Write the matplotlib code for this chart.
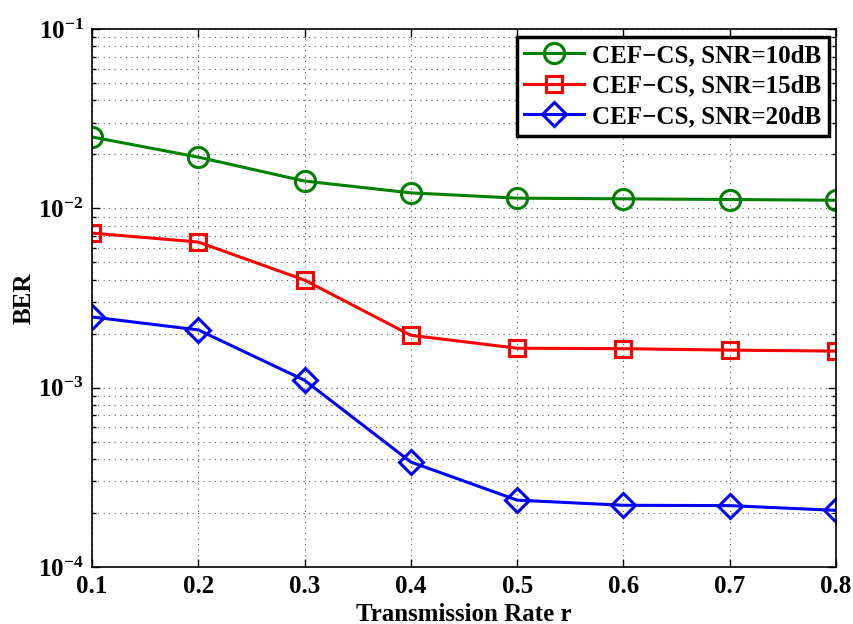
import math
import matplotlib
matplotlib.use("Agg")
import matplotlib.pyplot as plt
from matplotlib.ticker import LogLocator, FixedLocator, FuncFormatter, NullFormatter

plt.rcParams['font.family'] = 'Liberation Serif'
plt.rcParams['font.weight'] = 'bold'
plt.rcParams['mathtext.fontset'] = 'custom'
plt.rcParams['mathtext.rm'] = 'Liberation Serif:bold'
plt.rcParams['mathtext.bf'] = 'Liberation Serif:bold'
plt.rcParams['mathtext.default'] = 'bf'

# data
rate = [0.1, 0.2, 0.3, 0.4, 0.5, 0.6, 0.7, 0.8]
ber_10dB = [0.0250, 0.0193, 0.0142, 0.0122, 0.0114, 0.0113, 0.0112, 0.0111]
ber_15dB = [0.00728, 0.00649, 0.00398, 0.00196, 0.00166, 0.00165, 0.00162, 0.00160]
ber_20dB = [0.00248, 0.00210, 0.00110, 0.000385, 0.000236, 0.000221, 0.000220, 0.000207]
labels = ['CEF\u2212CS, SNR=10dB', 'CEF\u2212CS, SNR=15dB', 'CEF\u2212CS, SNR=20dB']

fig = plt.figure(figsize=(8.54, 6.24), dpi=100)
ax = fig.add_axes([0.1077, 0.0913, 0.8713, 0.8622])

ax.semilogy(rate, ber_10dB, '-o', color=(0, 0.5, 0), lw=2.2, ms=14.5, mfc='none', mew=2.2, label=labels[0])
ax.semilogy(rate, ber_15dB, '-s', color='red', lw=2.2, ms=12, mfc='none', mew=2.2, label=labels[1])
ax.semilogy(rate, ber_20dB, '-D', color='blue', lw=2.2, ms=12, mfc='none', mew=2.2, label=labels[2])

ax.set_xlim(0.1, 0.8)
ax.set_ylim(1e-4, 1e-1)
ax.xaxis.set_major_locator(FixedLocator(rate))
ax.xaxis.set_major_formatter(FuncFormatter(lambda v, p: f'{v:.1f}'))
ax.yaxis.set_major_locator(LogLocator(base=10, numticks=10))
ax.yaxis.set_minor_locator(LogLocator(base=10, subs=range(2, 10), numticks=20))
ax.yaxis.set_minor_formatter(NullFormatter())
ax.yaxis.set_major_formatter(FuncFormatter(lambda v, p: r'$10^{%d}$' % round(math.log10(v))))

ax.tick_params(which='both', direction='in', top=True, right=True, labelsize=18, width=1)
ax.tick_params(which='major', length=6, pad=6)
ax.tick_params(which='minor', length=3)
for s in ax.spines.values():
    s.set_linewidth(1.2)

ax.grid(True, which='major', linestyle=(0, (1, 4)), color='#555555', lw=0.8)
ax.grid(True, which='minor', axis='y', linestyle=(0, (1, 4)), color='#555555', lw=0.8)

ax.set_xlabel('Transmission Rate r', fontsize=18, fontweight='bold', labelpad=3)
ax.set_ylabel('BER', fontsize=18, fontweight='bold', labelpad=2)

leg = ax.legend(loc='upper right', fontsize=18, fancybox=False, framealpha=1,
                edgecolor='black', borderpad=0.3, labelspacing=0.3, handlelength=2.4,
                handletextpad=0.3, borderaxespad=0.3)
leg.get_frame().set_linewidth(2.5)

fig.savefig('out.png', dpi=100)
